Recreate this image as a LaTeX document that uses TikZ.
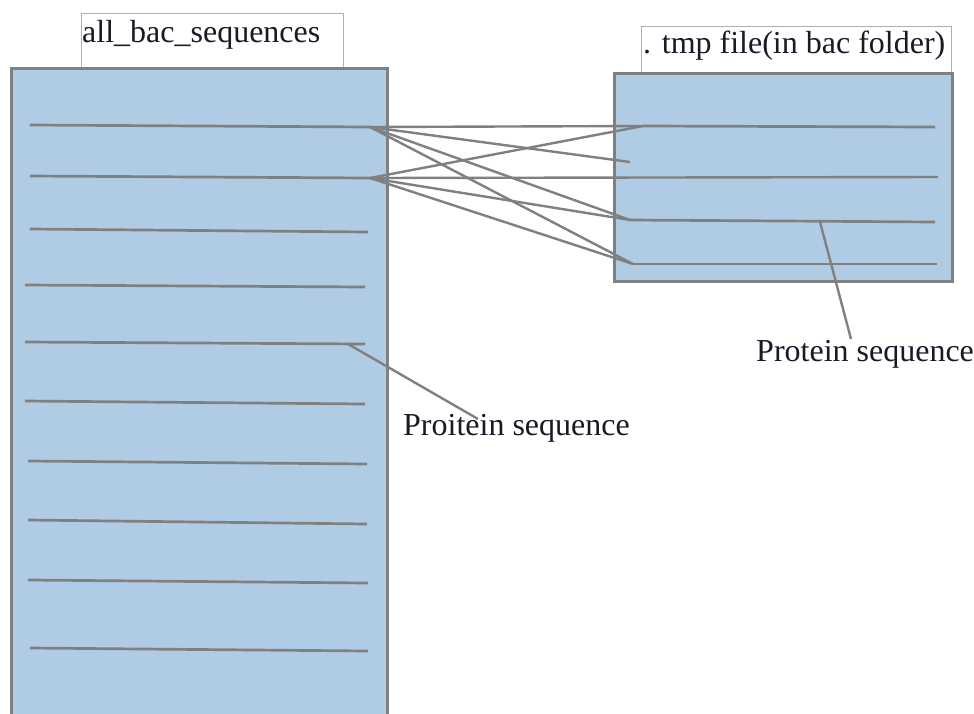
\documentclass[tikz,border=0pt]{standalone}
\usepackage{fontspec}
\setmainfont{Liberation Serif}
\definecolor{boxfill}{RGB}{176,204,228}
\definecolor{linegray}{RGB}{128,128,128}
\definecolor{labgray}{RGB}{175,175,175}
\definecolor{txt}{RGB}{25,25,40}
\begin{document}
\begin{tikzpicture}[x=1pt,y=-1pt,
  filebox/.style={draw=linegray,line width=3pt,fill=boxfill},
  labbox/.style={draw=labgray,line width=1pt,fill=white},
  seqline/.style={draw=linegray,line width=2.7pt},
  link/.style={draw=linegray,line width=2.4pt},
  lbl/.style={font=\fontsize{32}{38}\selectfont,text=txt,inner sep=0pt,anchor=base west}]
\clip (0,0) rectangle (974,713);
\fill[white] (0,0) rectangle (974,713);
% label boxes
\draw[labbox] (81,13) rectangle (343,68);
\draw[labbox] (641,26) rectangle (951,73);
\node[lbl] (t1) at (82,42) {all\_bac\_sequences};
\node[lbl] (t2) at (643,53) {. tmp file(in bac folder)};
% file boxes
\draw[filebox] (11,68) rectangle (387,730);
\draw[filebox] (614,73) rectangle (952,281);
% left sequence lines
\coordinate (a1) at (370,127);
\coordinate (a2) at (370,178);
\draw[seqline] (30,125) -- (a1);
\draw[seqline] (30,176) -- (a2);
\draw[seqline] (30,229) -- (368,232);
\draw[seqline] (25,285) -- (365,287);
\draw[seqline] (25,342) coordinate (l5s) -- (365,344) coordinate (l5e);
\draw[seqline] (25,401) -- (365,404);
\draw[seqline] (28,461) -- (367,464);
\draw[seqline] (28,520) -- (367,524);
\draw[seqline] (28,580) -- (368,583);
\draw[seqline] (30,648) -- (368,651);
% right sequence lines
\coordinate (b1) at (643,126);
\coordinate (b2) at (630,162);
\coordinate (b3) at (630,220);
\coordinate (b4) at (633,264);
\draw[seqline] (b1) -- (935,127);
\draw[seqline] (b3) -- (935,222);
\draw[seqline] (b4) -- (937,264);
% links
\draw[link] (a1) -- (b1);
\draw[link] (a1) -- (b2);
\draw[link] (a1) -- (b3);
\draw[link] (a1) -- (b4);
\draw[link] (a2) -- (b1);
\draw[link] (a2) -- (938,177);
\draw[link] (a2) -- (b3);
\draw[link] (a2) -- (b4);
% callouts
\node[lbl] (p1) at (403,435) {Proitein sequence};
\node[lbl] (p2) at (756,361) {Protein sequence};
\coordinate (c1) at (348,344);
\coordinate (c2) at (820,222);
\draw[link] (c1) -- (478,419);
\draw[link] (c2) -- (851,339);
\end{tikzpicture}
\end{document}
